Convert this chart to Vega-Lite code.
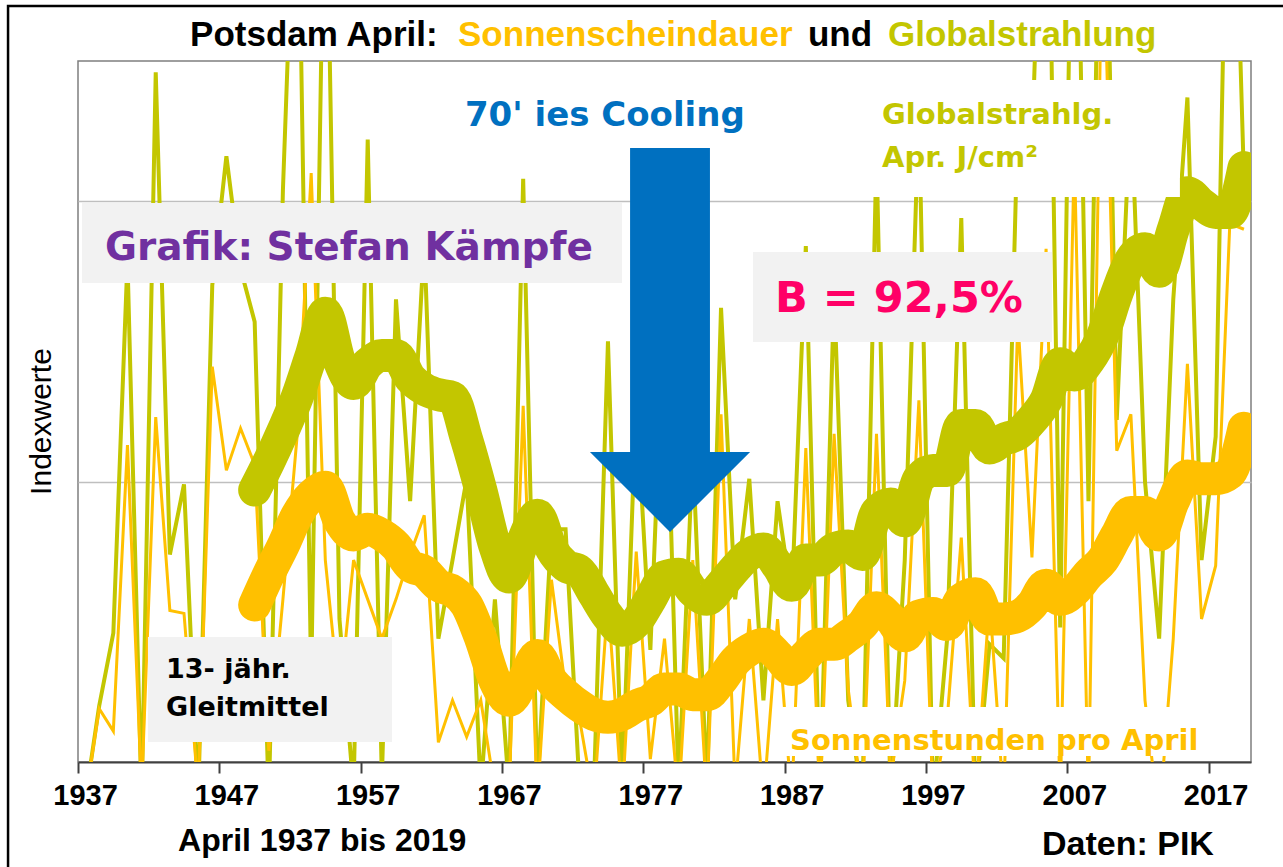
{
  "$schema": "https://vega.github.io/schema/vega-lite/v6.json",
  "width": 1173,
  "height": 701,
  "autosize": {"type": "none"},
  "padding": {"left": 78, "top": 61, "right": 32, "bottom": 105},
  "background": "white",
  "config": {
    "view": {"stroke": "#7f7f7f", "strokeWidth": 1.5},
    "font": "Liberation Sans"
  },
  "datasets": {
    "potsdam": [
      {"year": 1937, "glob": -0.14, "sonne": -0.14},
      {"year": 1938, "glob": 0.20, "sonne": 0.19},
      {"year": 1939, "glob": 0.46, "sonne": 0.11},
      {"year": 1940, "glob": 1.79, "sonne": 1.13},
      {"year": 1941, "glob": -0.14, "sonne": -0.10},
      {"year": 1942, "glob": 2.46, "sonne": 1.23},
      {"year": 1943, "glob": 0.74, "sonne": 0.54},
      {"year": 1944, "glob": 0.99, "sonne": 0.53},
      {"year": 1945, "glob": -0.14, "sonne": -0.10},
      {"year": 1946, "glob": 1.70, "sonne": 1.41},
      {"year": 1947, "glob": 2.16, "sonne": 1.04},
      {"year": 1948, "glob": 1.76, "sonne": 1.19},
      {"year": 1949, "glob": 1.57, "sonne": 1.06, "glob_ma13": 0.97, "sonne_ma13": 0.56},
      {"year": 1950, "glob": -0.14, "sonne": 0.04, "glob_ma13": 1.07, "sonne_ma13": 0.67},
      {"year": 1951, "glob": 2.04, "sonne": 0.58, "glob_ma13": 1.18, "sonne_ma13": 0.77},
      {"year": 1952, "glob": 3.43, "sonne": 1.16, "glob_ma13": 1.30, "sonne_ma13": 0.88},
      {"year": 1953, "glob": 0.29, "sonne": 2.10, "glob_ma13": 1.45, "sonne_ma13": 0.95},
      {"year": 1954, "glob": 3.43, "sonne": 0.72, "glob_ma13": 1.60, "sonne_ma13": 0.98},
      {"year": 1955, "glob": 0.51, "sonne": 0.22, "glob_ma13": 1.43, "sonne_ma13": 0.86},
      {"year": 1956, "glob": -0.10, "sonne": 0.72, "glob_ma13": 1.35, "sonne_ma13": 0.81},
      {"year": 1957, "glob": 2.22, "sonne": 0.58, "glob_ma13": 1.42, "sonne_ma13": 0.83},
      {"year": 1958, "glob": -0.06, "sonne": 0.44, "glob_ma13": 1.45, "sonne_ma13": 0.81},
      {"year": 1959, "glob": 1.65, "sonne": 0.58, "glob_ma13": 1.45, "sonne_ma13": 0.77},
      {"year": 1960, "glob": 0.93, "sonne": 0.74, "glob_ma13": 1.37, "sonne_ma13": 0.70},
      {"year": 1961, "glob": 1.86, "sonne": 0.88, "glob_ma13": 1.33, "sonne_ma13": 0.68},
      {"year": 1962, "glob": 0.44, "sonne": 0.07, "glob_ma13": 1.31, "sonne_ma13": 0.63},
      {"year": 1963, "glob": 0.72, "sonne": 0.22, "glob_ma13": 1.30, "sonne_ma13": 0.61},
      {"year": 1964, "glob": 1.01, "sonne": 0.09, "glob_ma13": 1.15, "sonne_ma13": 0.56},
      {"year": 1965, "glob": -0.10, "sonne": 0.22, "glob_ma13": 0.97, "sonne_ma13": 0.44},
      {"year": 1966, "glob": 0.58, "sonne": -0.10, "glob_ma13": 0.77, "sonne_ma13": 0.29},
      {"year": 1967, "glob": -0.10, "sonne": -0.10, "glob_ma13": 0.66, "sonne_ma13": 0.22},
      {"year": 1968, "glob": 2.08, "sonne": 1.27, "glob_ma13": 0.79, "sonne_ma13": 0.29},
      {"year": 1969, "glob": -0.10, "sonne": -0.14, "glob_ma13": 0.88, "sonne_ma13": 0.38},
      {"year": 1970, "glob": 0.83, "sonne": 0.65, "glob_ma13": 0.76, "sonne_ma13": 0.29},
      {"year": 1971, "glob": 0.83, "sonne": 0.26, "glob_ma13": 0.70, "sonne_ma13": 0.24},
      {"year": 1972, "glob": -0.10, "sonne": 0.15, "glob_ma13": 0.68, "sonne_ma13": 0.20},
      {"year": 1973, "glob": -0.10, "sonne": -0.14, "glob_ma13": 0.60, "sonne_ma13": 0.17},
      {"year": 1974, "glob": 1.50, "sonne": 0.58, "glob_ma13": 0.52, "sonne_ma13": 0.16},
      {"year": 1975, "glob": -0.10, "sonne": -0.14, "glob_ma13": 0.47, "sonne_ma13": 0.17},
      {"year": 1976, "glob": 1.29, "sonne": 0.75, "glob_ma13": 0.50, "sonne_ma13": 0.20},
      {"year": 1977, "glob": 0.40, "sonne": 0.01, "glob_ma13": 0.58, "sonne_ma13": 0.22},
      {"year": 1978, "glob": 1.65, "sonne": 0.44, "glob_ma13": 0.66, "sonne_ma13": 0.26},
      {"year": 1979, "glob": -0.10, "sonne": -0.14, "glob_ma13": 0.67, "sonne_ma13": 0.26},
      {"year": 1980, "glob": 1.11, "sonne": 0.72, "glob_ma13": 0.61, "sonne_ma13": 0.24},
      {"year": 1981, "glob": -0.10, "sonne": -0.14, "glob_ma13": 0.58, "sonne_ma13": 0.24},
      {"year": 1982, "glob": 1.62, "sonne": 1.24, "glob_ma13": 0.63, "sonne_ma13": 0.29},
      {"year": 1983, "glob": 0.58, "sonne": -0.10, "glob_ma13": 0.69, "sonne_ma13": 0.36},
      {"year": 1984, "glob": 1.01, "sonne": 0.51, "glob_ma13": 0.74, "sonne_ma13": 0.40},
      {"year": 1985, "glob": 0.22, "sonne": -0.14, "glob_ma13": 0.76, "sonne_ma13": 0.42},
      {"year": 1986, "glob": 0.93, "sonne": 0.51, "glob_ma13": 0.70, "sonne_ma13": 0.38},
      {"year": 1987, "glob": 0.58, "sonne": -0.14, "glob_ma13": 0.63, "sonne_ma13": 0.33},
      {"year": 1988, "glob": 1.84, "sonne": 1.12, "glob_ma13": 0.72, "sonne_ma13": 0.38},
      {"year": 1989, "glob": -0.14, "sonne": -0.14, "glob_ma13": 0.72, "sonne_ma13": 0.42},
      {"year": 1990, "glob": 1.68, "sonne": 1.17, "glob_ma13": 0.76, "sonne_ma13": 0.42},
      {"year": 1991, "glob": 0.22, "sonne": 0.26, "glob_ma13": 0.77, "sonne_ma13": 0.45},
      {"year": 1992, "glob": -0.14, "sonne": -0.14, "glob_ma13": 0.74, "sonne_ma13": 0.49},
      {"year": 1993, "glob": 2.18, "sonne": 1.17, "glob_ma13": 0.89, "sonne_ma13": 0.55},
      {"year": 1994, "glob": -0.14, "sonne": -0.06, "glob_ma13": 0.92, "sonne_ma13": 0.51},
      {"year": 1995, "glob": 0.72, "sonne": 0.29, "glob_ma13": 0.86, "sonne_ma13": 0.45},
      {"year": 1996, "glob": 2.33, "sonne": 1.29, "glob_ma13": 1.01, "sonne_ma13": 0.52},
      {"year": 1997, "glob": -0.14, "sonne": -0.14, "glob_ma13": 1.04, "sonne_ma13": 0.53},
      {"year": 1998, "glob": 0.44, "sonne": 0.15, "glob_ma13": 1.04, "sonne_ma13": 0.49},
      {"year": 1999, "glob": 1.94, "sonne": 0.80, "glob_ma13": 1.20, "sonne_ma13": 0.58},
      {"year": 2000, "glob": -0.14, "sonne": -0.14, "glob_ma13": 1.20, "sonne_ma13": 0.60},
      {"year": 2001, "glob": 0.42, "sonne": 0.58, "glob_ma13": 1.12, "sonne_ma13": 0.51},
      {"year": 2002, "glob": 0.37, "sonne": -0.14, "glob_ma13": 1.15, "sonne_ma13": 0.51},
      {"year": 2003, "glob": 2.29, "sonne": 1.58, "glob_ma13": 1.17, "sonne_ma13": 0.52},
      {"year": 2004, "glob": 2.18, "sonne": 0.73, "glob_ma13": 1.22, "sonne_ma13": 0.56},
      {"year": 2005, "glob": 3.79, "sonne": 1.83, "glob_ma13": 1.29, "sonne_ma13": 0.63},
      {"year": 2006, "glob": 0.48, "sonne": -0.14, "glob_ma13": 1.42, "sonne_ma13": 0.58},
      {"year": 2007, "glob": 3.79, "sonne": 2.18, "glob_ma13": 1.38, "sonne_ma13": 0.61},
      {"year": 2008, "glob": 0.93, "sonne": -0.14, "glob_ma13": 1.43, "sonne_ma13": 0.67},
      {"year": 2009, "glob": 3.79, "sonne": 3.07, "glob_ma13": 1.52, "sonne_ma13": 0.72},
      {"year": 2010, "glob": 1.22, "sonne": 1.11, "glob_ma13": 1.67, "sonne_ma13": 0.81},
      {"year": 2011, "glob": 2.36, "sonne": 1.24, "glob_ma13": 1.79, "sonne_ma13": 0.89},
      {"year": 2012, "glob": 1.00, "sonne": 0.22, "glob_ma13": 1.83, "sonne_ma13": 0.89},
      {"year": 2013, "glob": 0.44, "sonne": -0.21, "glob_ma13": 1.75, "sonne_ma13": 0.81},
      {"year": 2014, "glob": 1.65, "sonne": 0.44, "glob_ma13": 1.90, "sonne_ma13": 0.93},
      {"year": 2015, "glob": 2.37, "sonne": 1.42, "glob_ma13": 2.03, "sonne_ma13": 1.02},
      {"year": 2016, "glob": 0.72, "sonne": 0.51, "glob_ma13": 1.99, "sonne_ma13": 1.01},
      {"year": 2017, "glob": 1.16, "sonne": 0.70, "glob_ma13": 1.96, "sonne_ma13": 1.01},
      {"year": 2018, "glob": 3.79, "sonne": 1.92, "glob_ma13": 1.96, "sonne_ma13": 1.03},
      {"year": 2019, "glob": 2.08, "sonne": 1.90, "glob_ma13": 2.12, "sonne_ma13": 1.19}
    ],
    "note": [{"n": 1}]
  },
  "layer": [
    {
      "data": {"name": "potsdam"},
      "mark": {"type": "line", "color": "#c3c600", "strokeWidth": 4, "clip": true},
      "encoding": {
        "x": {
          "field": "year", "type": "quantitative",
          "scale": {"domain": [1936.5, 2019.5], "nice": false, "zero": false},
          "axis": {
            "title": null,
            "values": [1936.5, 1946.5, 1956.5, 1966.5, 1976.5, 1986.5, 1996.5, 2006.5, 2016.5],
            "labelExpr": "format(datum.value + 0.5, 'd')",
            "labelOffset": 7,
            "labelFont": "Liberation Sans", "labelFontWeight": "bold", "labelFontSize": 29, "labelColor": "black",
            "labelPadding": 8, "labelFlush": false, "labelOverlap": false, "labelBound": false,
            "tickSize": 11, "tickWidth": 2, "tickColor": "#404040",
            "domainColor": "#404040", "domainWidth": 2, "grid": false
          }
        },
        "y": {
          "field": "glob", "type": "quantitative",
          "scale": {"domain": [0, 2.5], "nice": false, "zero": false},
          "axis": {
            "title": "Indexwerte", "titleFont": "Liberation Sans", "titleFontSize": 30, "titleFontWeight": "normal",
            "titleColor": "black", "titleX": -37, "titleY": 360, "titleAngle": -90, "titleAlign": "center", "titleBaseline": "middle",
            "labels": false, "ticks": false, "domain": false,
            "values": [1, 2], "grid": true, "gridColor": "#bfbfbf", "gridWidth": 1.5
          }
        }
      }
    },
    {
      "data": {"name": "potsdam"},
      "mark": {"type": "line", "color": "#ffc000", "strokeWidth": 3, "clip": true},
      "encoding": {"x": {"field": "year", "type": "quantitative"}, "y": {"field": "sonne", "type": "quantitative"}}
    },
    {
      "data": {"name": "potsdam"},
      "mark": {"type": "line", "color": "#ffc000", "strokeWidth": 33, "interpolate": "monotone", "strokeCap": "round", "strokeJoin": "round", "clip": true},
      "encoding": {"x": {"field": "year", "type": "quantitative"}, "y": {"field": "sonne_ma13", "type": "quantitative"}}
    },
    {
      "data": {"name": "potsdam"},
      "mark": {"type": "line", "color": "#c3c600", "strokeWidth": 33, "interpolate": "monotone", "strokeCap": "round", "strokeJoin": "round", "clip": true},
      "encoding": {"x": {"field": "year", "type": "quantitative"}, "y": {"field": "glob_ma13", "type": "quantitative"}}
    },
    {
      "data": {"name": "note"},
      "mark": {"type": "rect", "fill": "#f2f2f2"},
      "encoding": {
        "x": {"datum": 1936.78, "type": "quantitative"}, "x2": {"datum": 1974.99},
        "y": {"datum": 1.994, "type": "quantitative"}, "y2": {"datum": 1.708}
      }
    },
    {
      "data": {"name": "note"},
      "mark": {"type": "rect", "fill": "#f2f2f2"},
      "encoding": {
        "x": {"datum": 1984.26, "type": "quantitative"}, "x2": {"datum": 2005.42},
        "y": {"datum": 1.819, "type": "quantitative"}, "y2": {"datum": 1.498}
      }
    },
    {
      "data": {"name": "note"},
      "mark": {"type": "rect", "fill": "#f2f2f2"},
      "encoding": {
        "x": {"datum": 1941.45, "type": "quantitative"}, "x2": {"datum": 1958.72},
        "y": {"datum": 0.446, "type": "quantitative"}, "y2": {"datum": 0.071}
      }
    },
    {
      "data": {"name": "note"},
      "mark": {"type": "rect", "fill": "white"},
      "encoding": {
        "x": {"datum": 1992.19, "type": "quantitative"}, "x2": {"datum": 2014.47},
        "y": {"datum": 2.432, "type": "quantitative"}, "y2": {"datum": 2.015}
      }
    },
    {
      "data": {"name": "note"},
      "mark": {"type": "rect", "fill": "white"},
      "encoding": {
        "x": {"datum": 1986.31, "type": "quantitative"}, "x2": {"datum": 2016.45},
        "y": {"datum": 0.196, "type": "quantitative"}, "y2": {"datum": 0.021}
      }
    },
    {
      "data": {"name": "note"},
      "mark": {"type": "point", "shape": "M-0.208,-1L0.208,-1L0.208,0.583L0.417,0.583L0,1L-0.417,0.583L-0.208,0.583Z", "size": 147456, "filled": true, "fill": "#0070c0", "opacity": 1, "strokeWidth": 0},
      "encoding": {
        "x": {"datum": 1978.39, "type": "quantitative"},
        "y": {"datum": 1.505, "type": "quantitative"}
      }
    },
    {
      "data": {"name": "note"},
      "mark": {"type": "text", "text": "Grafik: Stefan Kämpfe", "font": "DejaVu Sans", "fontWeight": "bold", "fontSize": 39, "fill": "#7030a0", "align": "left", "baseline": "alphabetic"},
      "encoding": {"x": {"datum": 1938.41, "type": "quantitative"}, "y": {"datum": 1.790, "type": "quantitative"}}
    },
    {
      "data": {"name": "note"},
      "mark": {"type": "text", "text": "70' ies Cooling", "font": "DejaVu Sans", "fontWeight": "bold", "fontSize": 34, "fill": "#0070c0", "align": "left", "baseline": "alphabetic"},
      "encoding": {"x": {"datum": 1963.88, "type": "quantitative"}, "y": {"datum": 2.268, "type": "quantitative"}}
    },
    {
      "data": {"name": "note"},
      "mark": {"type": "text", "text": "B = 92,5%", "font": "DejaVu Sans", "fontWeight": "bold", "fontSize": 43, "fill": "#ff0066", "align": "left", "baseline": "alphabetic"},
      "encoding": {"x": {"datum": 1985.82, "type": "quantitative"}, "y": {"datum": 1.605, "type": "quantitative"}}
    },
    {
      "data": {"name": "note"},
      "mark": {"type": "text", "text": "Globalstrahlg.", "font": "DejaVu Sans", "fontWeight": "bold", "fontSize": 29, "fill": "#c3c600", "align": "left", "baseline": "alphabetic"},
      "encoding": {"x": {"datum": 1993.39, "type": "quantitative"}, "y": {"datum": 2.275, "type": "quantitative"}}
    },
    {
      "data": {"name": "note"},
      "mark": {"type": "text", "text": "Apr. J/cm²", "font": "DejaVu Sans", "fontWeight": "bold", "fontSize": 29, "fill": "#c3c600", "align": "left", "baseline": "alphabetic"},
      "encoding": {"x": {"datum": 1993.39, "type": "quantitative"}, "y": {"datum": 2.122, "type": "quantitative"}}
    },
    {
      "data": {"name": "note"},
      "mark": {"type": "text", "text": "13- jähr.", "font": "DejaVu Sans", "fontWeight": "bold", "fontSize": 27, "fill": "black", "align": "left", "baseline": "alphabetic"},
      "encoding": {"x": {"datum": 1942.73, "type": "quantitative"}, "y": {"datum": 0.300, "type": "quantitative"}}
    },
    {
      "data": {"name": "note"},
      "mark": {"type": "text", "text": "Gleitmittel", "font": "DejaVu Sans", "fontWeight": "bold", "fontSize": 27, "fill": "black", "align": "left", "baseline": "alphabetic"},
      "encoding": {"x": {"datum": 1942.73, "type": "quantitative"}, "y": {"datum": 0.164, "type": "quantitative"}}
    },
    {
      "data": {"name": "note"},
      "mark": {"type": "text", "text": "Sonnenstunden pro April", "font": "DejaVu Sans", "fontWeight": "bold", "fontSize": 29, "fill": "#ffc000", "align": "left", "baseline": "alphabetic"},
      "encoding": {"x": {"datum": 1986.88, "type": "quantitative"}, "y": {"datum": 0.043, "type": "quantitative"}}
    },
    {
      "data": {"name": "note"},
      "mark": {"type": "text", "text": "April 1937 bis 2019", "font": "Liberation Sans", "fontWeight": "bold", "fontSize": 32, "fill": "black", "align": "left", "baseline": "alphabetic"},
      "encoding": {"x": {"datum": 1943.58, "type": "quantitative"}, "y": {"datum": -0.317, "type": "quantitative"}}
    },
    {
      "data": {"name": "note"},
      "mark": {"type": "text", "text": "Daten: PIK", "font": "Liberation Sans", "fontWeight": "bold", "fontSize": 34, "fill": "black", "align": "left", "baseline": "alphabetic"},
      "encoding": {"x": {"datum": 2004.71, "type": "quantitative"}, "y": {"datum": -0.33, "type": "quantitative"}}
    },
    {
      "data": {"name": "note"},
      "mark": {"type": "text", "text": "Potsdam April:", "font": "Liberation Sans", "fontWeight": "bold", "fontSize": 35, "fill": "black", "align": "left", "baseline": "alphabetic"},
      "encoding": {"x": {"datum": 1944.43, "type": "quantitative"}, "y": {"datum": 2.5535, "type": "quantitative"}}
    },
    {
      "data": {"name": "note"},
      "mark": {"type": "text", "text": "Sonnenscheindauer", "font": "Liberation Sans", "fontWeight": "bold", "fontSize": 35, "fill": "#ffc000", "align": "left", "baseline": "alphabetic"},
      "encoding": {"x": {"datum": 1963.39, "type": "quantitative"}, "y": {"datum": 2.5535, "type": "quantitative"}}
    },
    {
      "data": {"name": "note"},
      "mark": {"type": "text", "text": "und", "font": "Liberation Sans", "fontWeight": "bold", "fontSize": 35, "fill": "black", "align": "left", "baseline": "alphabetic"},
      "encoding": {"x": {"datum": 1988.15, "type": "quantitative"}, "y": {"datum": 2.5535, "type": "quantitative"}}
    },
    {
      "data": {"name": "note"},
      "mark": {"type": "text", "text": "Globalstrahlung", "font": "Liberation Sans", "fontWeight": "bold", "fontSize": 35, "fill": "#c3c600", "align": "left", "baseline": "alphabetic"},
      "encoding": {"x": {"datum": 1993.81, "type": "quantitative"}, "y": {"datum": 2.5535, "type": "quantitative"}}
    },
    {
      "data": {"name": "note"},
      "mark": {"type": "rect", "filled": false, "stroke": "black", "strokeWidth": 2.5},
      "encoding": {
        "x": {"datum": 1931.55, "type": "quantitative"}, "x2": {"datum": 2023.0},
        "y": {"datum": 2.696, "type": "quantitative"}, "y2": {"datum": -0.49}
      }
    }
  ]
}
